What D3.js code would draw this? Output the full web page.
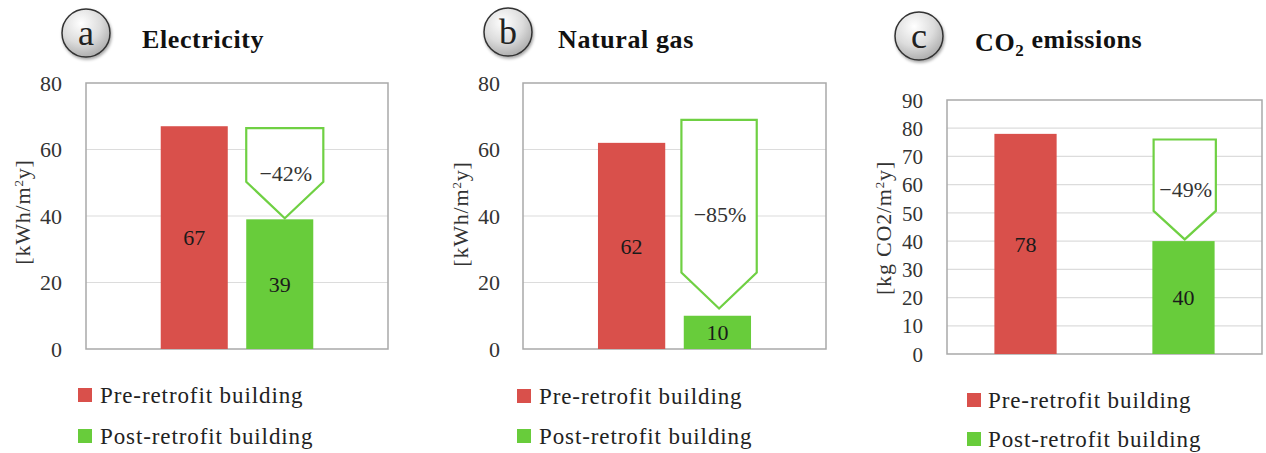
<!DOCTYPE html>
<html>
<head>
<meta charset="utf-8">
<script src="https://cdn.jsdelivr.net/npm/d3@7"></script>
<style>
  html, body { margin: 0; padding: 0; background: #fff; }
  svg { display: block; }
  svg text { font-family: "Liberation Serif", "Times New Roman", serif !important; }
</style>
</head>
<body>
<svg id="chart" width="1266" height="453"></svg>
<script>
// ---------- DATA ----------
const panelLetters = ["a", "b", "c"];
const panelTitles = ["Electricity", "Natural gas", "CO2 emissions"];
const categories = ["Pre-retrofit building", "Post-retrofit building"];
const preValues = [67, 62, 78];
const postValues = [39, 10, 40];
const reductionLabels = ["\u221242%", "\u221285%", "\u221249%"];
const arrowTopValues = [66.4, 68.9, 76];
const arrowShoulderValues = [50.3, 23, 50.7];
const arrowTipValues = [39.3, 12.2, 40.6];
const yMaxValues = [80, 80, 90];
const yTicksEnergy = [0, 20, 40, 60, 80];
const yTicksCO2 = [0, 10, 20, 30, 40, 50, 60, 70, 80, 90];
const yAxisTitles = ["kWh/m|2|y", "kWh/m|2|y", "kg CO2/m|2|y"];

// ---------- LAYOUT (styling only) ----------
const layout = [
  { x0: 86, x1: 388, y0: 83, y1: 349, pi: 0.216, po: 0.874, ar: [0, 1.15], tickFs: 22, tickGap: 24,
    titleX: 22, titleY: 212, badge: [86, 33], titlePos: [142, 48], leg: [78, 100, 388, 429] },
  { x0: 523, x1: 826, y0: 83, y1: 349, pi: 0.216, po: 0.874, ar: [-0.035, 1.085], tickFs: 22, tickGap: 23,
    titleX: 460, titleY: 214, badge: [508, 32], titlePos: [558, 48], leg: [517, 539, 389, 429] },
  { x0: 947, x1: 1262, y0: 100, y1: 354, pi: 0.606, po: 0.30, ar: [0.02, 1.02], tickFs: 21, tickGap: 24,
    titleX: 883, titleY: 228, badge: [919, 36], titlePos: [975, 51], leg: [967, 988, 393, 432] }
];
const tickSets = [yTicksEnergy, yTicksEnergy, yTicksCO2];
const RED = "#d9504b";
const GREEN = "#68cc3b";
const ARROW = "#6fd043";

const svg = d3.select("#chart");
const defs = svg.append("defs");
const grad = defs.append("radialGradient").attr("id", "badgeGrad")
  .attr("cx", "40%").attr("cy", "30%").attr("r", "75%");
grad.append("stop").attr("offset", "0%").attr("stop-color", "#ffffff");
grad.append("stop").attr("offset", "55%").attr("stop-color", "#dcdcdc");
grad.append("stop").attr("offset", "100%").attr("stop-color", "#a8a8a8");
const shadow = defs.append("filter").attr("id", "shadow").attr("x", "-30%").attr("y", "-30%").attr("width", "160%").attr("height", "160%");
shadow.append("feDropShadow").attr("dx", 1).attr("dy", 2).attr("stdDeviation", 1.5).attr("flood-color", "#000").attr("flood-opacity", 0.35);

panelLetters.forEach((letter, i) => {
  const L = layout[i];
  const g = svg.append("g");
  const y = d3.scaleLinear().domain([0, yMaxValues[i]]).range([L.y1, L.y0]);
  const x = d3.scaleBand().domain(categories).range([L.x0, L.x1])
    .paddingInner(L.pi).paddingOuter(L.po);

  // gridlines
  g.append("g").selectAll("line").data(tickSets[i].filter(t => t > 0 && t < yMaxValues[i]))
    .join("line")
    .attr("x1", L.x0).attr("x2", L.x1)
    .attr("y1", d => y(d)).attr("y2", d => y(d))
    .attr("stroke", "#dcdcdc").attr("stroke-width", 1.2);

  // plot border
  g.append("rect").attr("x", L.x0).attr("y", L.y0)
    .attr("width", L.x1 - L.x0).attr("height", L.y1 - L.y0)
    .attr("fill", "none").attr("stroke", "#a9a9a9").attr("stroke-width", 1.5);

  // y axis labels via d3 axis
  const axis = d3.axisLeft(y).tickValues(tickSets[i]).tickSize(0).tickPadding(L.tickGap);
  const ag = g.append("g").attr("transform", `translate(${L.x0},0)`).call(axis)
    .attr("font-family", null).attr("font-size", null);
  ag.select(".domain").remove();
  ag.selectAll("text")
    .attr("font-size", L.tickFs).attr("fill", "#333").attr("dy", "0.34em");

  // axis title
  const parts = yAxisTitles[i].split("|");
  const at = g.append("text")
    .attr("transform", `translate(${L.titleX},${L.titleY}) rotate(-90)`)
    .attr("text-anchor", "middle").attr("font-size", 22).attr("fill", "#333")
    .attr("letter-spacing", 0.8).attr("dy", "0.35em");
  at.append("tspan").text("[" + parts[0]);
  at.append("tspan").text(parts[1]).attr("font-size", 13).attr("dy", "-0.5em");
  at.append("tspan").text(parts[2] + "]").attr("dy", "0.3em");

  // bars
  const vals = [preValues[i], postValues[i]];
  const colors = [RED, GREEN];
  g.append("g").selectAll("rect").data(vals).join("rect")
    .attr("x", (d, k) => x(categories[k]))
    .attr("width", x.bandwidth())
    .attr("y", d => y(d))
    .attr("height", d => y(0) - y(d))
    .attr("fill", (d, k) => colors[k]);

  // value labels
  g.append("g").selectAll("text").data(vals).join("text")
    .attr("x", (d, k) => x(categories[k]) + x.bandwidth() / 2)
    .attr("y", d => (y(d) + y(0)) / 2)
    .attr("dy", "0.35em").attr("text-anchor", "middle")
    .attr("font-size", 22).attr("fill", "#1a1a1a")
    .text(d => d);

  // reduction arrow
  const bx = x(categories[1]);
  const bw = x.bandwidth();
  const ax0 = bx + L.ar[0] * bw, ax1 = bx + L.ar[1] * bw, axm = (ax0 + ax1) / 2;
  const yt = y(arrowTopValues[i]), ys = y(arrowShoulderValues[i]), yp = y(arrowTipValues[i]);
  const path = d3.path();
  path.moveTo(ax0, yt); path.lineTo(ax1, yt); path.lineTo(ax1, ys);
  path.lineTo(axm, yp); path.lineTo(ax0, ys); path.closePath();
  g.append("path").attr("d", path.toString())
    .attr("fill", "#fff").attr("stroke", ARROW).attr("stroke-width", 2.2)
    .attr("stroke-linejoin", "miter");
  g.append("text").attr("x", axm + 1).attr("y", (yt + yp) / 2)
    .attr("dy", "0.35em").attr("text-anchor", "middle")
    .attr("font-size", 22).attr("fill", "#333")
    .text(reductionLabels[i]);

  // badge
  const [cx, cy] = L.badge;
  g.append("circle").attr("cx", cx).attr("cy", cy).attr("r", 24)
    .attr("fill", "url(#badgeGrad)").attr("stroke", "#333").attr("stroke-width", 1.5)
    .attr("filter", "url(#shadow)");
  g.append("text").attr("x", cx).attr("y", cy).attr("dy", "0.33em")
    .attr("text-anchor", "middle").attr("font-size", 36).attr("fill", "#222")
    .text(letter);

  // title
  const tt = g.append("text").attr("x", L.titlePos[0]).attr("y", L.titlePos[1])
    .attr("font-size", 26).attr("font-weight", "bold").attr("fill", "#111")
    .attr("letter-spacing", 0.6);
  if (panelTitles[i].startsWith("CO2")) {
    tt.append("tspan").text("CO");
    tt.append("tspan").text("2").attr("font-size", 17).attr("dy", "0.3em");
    tt.append("tspan").text(panelTitles[i].slice(3)).attr("dy", "-0.3em");
  } else {
    tt.text(panelTitles[i]);
  }

  // legend
  const [sx, tx, ly1, ly2] = L.leg;
  const lg = g.append("g");
  categories.forEach((c, k) => {
    const ly = k === 0 ? ly1 : ly2;
    lg.append("rect").attr("x", sx).attr("y", ly).attr("width", 14).attr("height", 14)
      .attr("fill", colors[k]);
    lg.append("text").attr("x", tx).attr("y", ly + 7).attr("dy", "0.34em")
      .attr("font-size", 23).attr("fill", "#222").attr("letter-spacing", 0.9)
      .text(c);
  });
});
</script>
</body>
</html>
